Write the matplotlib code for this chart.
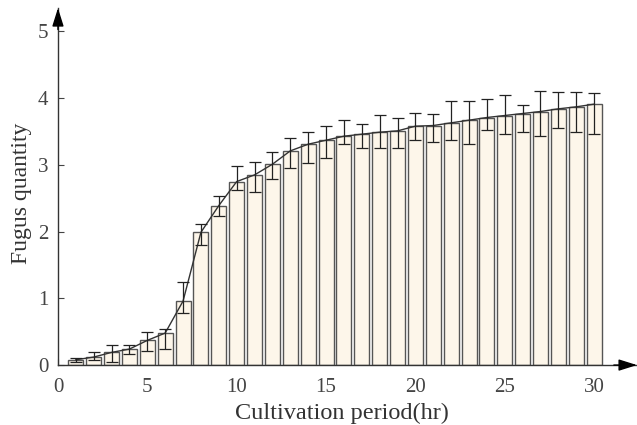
import matplotlib
matplotlib.use("Agg")
import matplotlib.pyplot as plt
import numpy as np

hours = list(range(1, 31))
quantity = [0.08, 0.12, 0.19, 0.24, 0.37, 0.48, 0.96, 1.99, 2.39, 2.75,
            2.85, 3.01, 3.21, 3.31, 3.37, 3.43, 3.46, 3.49, 3.51, 3.58,
            3.59, 3.63, 3.67, 3.71, 3.74, 3.77, 3.80, 3.84, 3.87, 3.91]
err_low = [0.03, 0.05, 0.15, 0.08, 0.16, 0.24, 0.18, 0.19, 0.16, 0.12,
           0.26, 0.22, 0.25, 0.28, 0.26, 0.12, 0.21, 0.23, 0.26, 0.20,
           0.25, 0.25, 0.35, 0.18, 0.28, 0.27, 0.37, 0.29, 0.37, 0.45]
err_high = [0.03, 0.08, 0.11, 0.06, 0.12, 0.06, 0.29, 0.13, 0.15, 0.24,
            0.19, 0.18, 0.20, 0.19, 0.22, 0.24, 0.16, 0.26, 0.20, 0.20,
            0.17, 0.32, 0.29, 0.28, 0.31, 0.13, 0.31, 0.25, 0.22, 0.16]

x_ticks = [0, 5, 10, 15, 20, 25, 30]
y_ticks = [0, 1, 2, 3, 4, 5]

plt.rcParams['font.family'] = ['Liberation Serif', 'DejaVu Serif']

fig = plt.figure(figsize=(6.37, 4.25), dpi=100)
ax = fig.add_axes([0.091, 0.141, 0.909, 0.840])

ax.bar(hours, quantity, width=0.84, color='#FDF6EA', edgecolor='#555555',
       linewidth=1.0, zorder=2)
ax.errorbar(hours, quantity, yerr=[err_low, err_high], fmt='none',
            ecolor='#222222', elinewidth=0.9, capsize=4, capthick=0.9, zorder=4)
ax.plot(hours, quantity, color='#333333', linewidth=1.0, zorder=3)

ax.set_xlim(0, 32.4)
ax.set_ylim(0, 5.35)
ax.set_xticks(x_ticks)
ax.set_yticks(y_ticks)
ax.tick_params(direction='in', length=4, width=0.8, labelsize=15,
               colors='#444444', labelcolor='#444444')
ax.tick_params(axis='y', pad=7)
ax.tick_params(axis='x', pad=9)

for s in ['top', 'right']:
    ax.spines[s].set_visible(False)
for s in ['left', 'bottom']:
    ax.spines[s].set_color('#333333')
    ax.spines[s].set_linewidth(1.0)

arrow_style = '-|>,head_length=0.7,head_width=0.22'
ax.annotate('', xy=(1.0, 0), xytext=(0.96, 0), xycoords='axes fraction',
            arrowprops=dict(arrowstyle=arrow_style, color='black', lw=1.0,
                            mutation_scale=16, shrinkA=0, shrinkB=0))
ax.annotate('', xy=(0, 1.0), xytext=(0, 0.94), xycoords='axes fraction',
            arrowprops=dict(arrowstyle=arrow_style, color='black', lw=1.0,
                            mutation_scale=16, shrinkA=0, shrinkB=0))

ax.set_xlabel('Cultivation period(hr)', fontsize=17.5, color='#333333')
ax.set_ylabel('Fugus quantity', fontsize=17, color='#333333')
ax.xaxis.set_label_coords(0.49, -0.105)
ax.yaxis.set_label_coords(-0.045, 0.48)

fig.savefig('out.png', dpi=100)
